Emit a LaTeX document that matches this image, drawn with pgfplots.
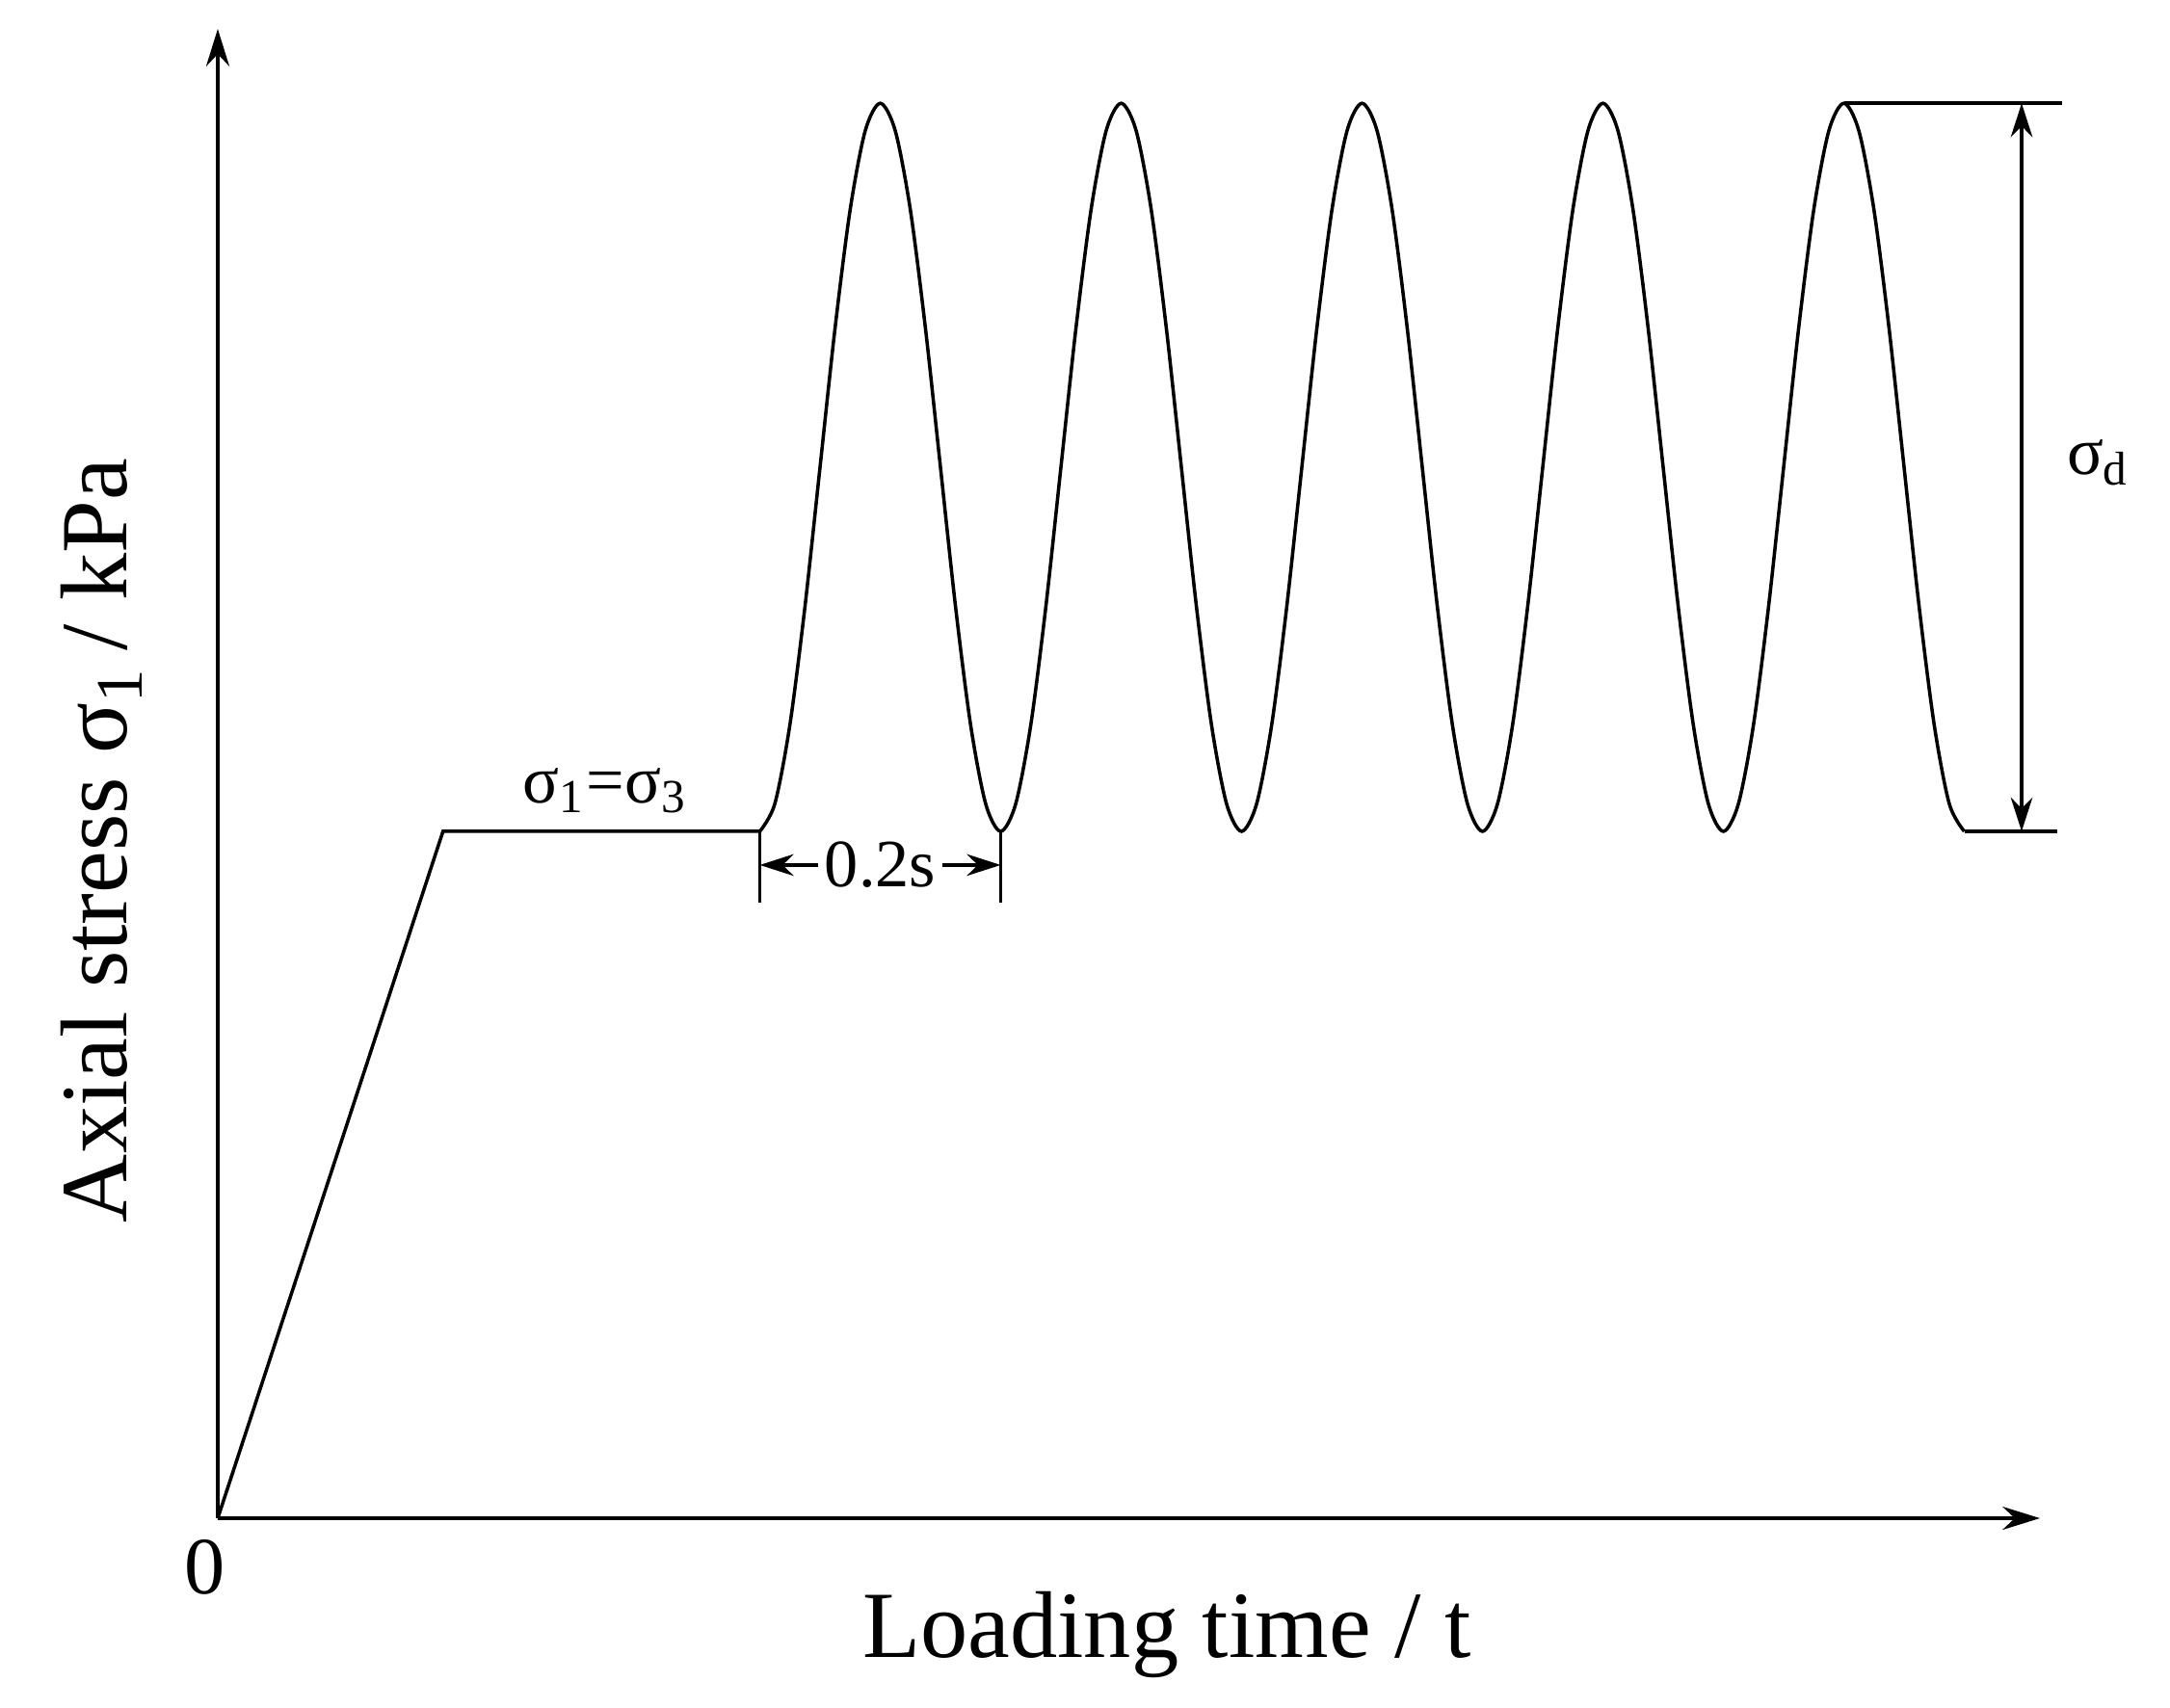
\documentclass[border=0pt]{standalone}
\usepackage{fontspec}
\setmainfont{Liberation Serif}
\usepackage{pgfplots}
\usepackage{pgfplotstable}
\pgfplotsset{compat=1.18}
\usetikzlibrary{arrows.meta}

% haversine cyclic loading, sigma_3 = 1, peak = 2.06
\pgfplotstableread{
t s
0.45 1
0.4625 1.0403
0.475 1.1552
0.4875 1.3272
0.5 1.53
0.5125 1.7328
0.525 1.9048
0.5375 2.0197
0.55 2.06
0.5625 2.0197
0.575 1.9048
0.5875 1.7328
0.6 1.53
0.6125 1.3272
0.625 1.1552
0.6375 1.0403
0.65 1
0.6625 1.0403
0.675 1.1552
0.6875 1.3272
0.7 1.53
0.7125 1.7328
0.725 1.9048
0.7375 2.0197
0.75 2.06
0.7625 2.0197
0.775 1.9048
0.7875 1.7328
0.8 1.53
0.8125 1.3272
0.825 1.1552
0.8375 1.0403
0.85 1
0.8625 1.0403
0.875 1.1552
0.8875 1.3272
0.9 1.53
0.9125 1.7328
0.925 1.9048
0.9375 2.0197
0.95 2.06
0.9625 2.0197
0.975 1.9048
0.9875 1.7328
1.0 1.53
1.0125 1.3272
1.025 1.1552
1.0375 1.0403
1.05 1
1.0625 1.0403
1.075 1.1552
1.0875 1.3272
1.1 1.53
1.1125 1.7328
1.125 1.9048
1.1375 2.0197
1.15 2.06
1.1625 2.0197
1.175 1.9048
1.1875 1.7328
1.2 1.53
1.2125 1.3272
1.225 1.1552
1.2375 1.0403
1.25 1
1.2625 1.0403
1.275 1.1552
1.2875 1.3272
1.3 1.53
1.3125 1.7328
1.325 1.9048
1.3375 2.0197
1.35 2.06
1.3625 2.0197
1.375 1.9048
1.3875 1.7328
1.4 1.53
1.4125 1.3272
1.425 1.1552
1.4375 1.0403
1.45 1
}\wavedata

\begin{document}
\begin{tikzpicture}[>={Stealth[length=5pt,width=3.2pt]}]
\begin{axis}[
    scale only axis,
    width=9.455cm,
    height=7.73cm,
    xmin=0, xmax=1.5128,
    ymin=0, ymax=2.1683,
    axis lines=left,
    axis line style={line width=0.65pt, -{Stealth[length=5.5pt,width=3.4pt]}},
    xtick=\empty, ytick=\empty,
    clip=false,
]
% ramp and confining plateau
\addplot[black, line width=0.5pt] coordinates {(0,0) (0.187,1) (0.45,1)};
% cyclic deviator stress
\addplot[black, line width=0.5pt, smooth] table[x=t, y=s] {\wavedata};
% tail and extension lines
\addplot[black, line width=0.55pt] coordinates {(1.45,1) (1.527,1)};
\addplot[black, line width=0.55pt] coordinates {(1.35,2.06) (1.531,2.06)};
% sigma_d dimension
\addplot[black, line width=0.55pt, <->] coordinates {(1.4976,1) (1.4976,2.06)};
% period dimension
\addplot[black, line width=0.5pt] coordinates {(0.45,1) (0.45,0.896)};
\addplot[black, line width=0.5pt] coordinates {(0.65,1) (0.65,0.896)};
\addplot[black, line width=0.5pt, <->] coordinates {(0.45,0.951) (0.65,0.951)};

\node[fill=white, inner sep=1pt, font=\fontsize{10}{12}\selectfont] at (axis cs:0.55,0.951) {0.2s};
\node[anchor=base, font=\fontsize{10}{12}\selectfont] at (axis cs:0.322,1.042) {σ\textsubscript{1}=σ\textsubscript{3}};
\node[font=\fontsize{10}{12}\selectfont] at (axis cs:1.5616,1.537) {σ\textsubscript{d}};
\node[font=\fontsize{12}{14}\selectfont] at (axis cs:-0.0104,-0.0715) {0};
\node[anchor=base, font=\fontsize{14}{16}\selectfont] at (axis cs:0.788,-0.202) {Loading time / t};
\node[anchor=base, rotate=90, font=\fontsize{14}{16}\selectfont] at (axis cs:-0.0752,0.987) {Axial stress σ\textsubscript{1}\,/ kPa};

\path[use as bounding box] (axis cs:-0.1808,-0.2763) rectangle (axis cs:1.6208,2.2104);
\end{axis}
\end{tikzpicture}
\end{document}
